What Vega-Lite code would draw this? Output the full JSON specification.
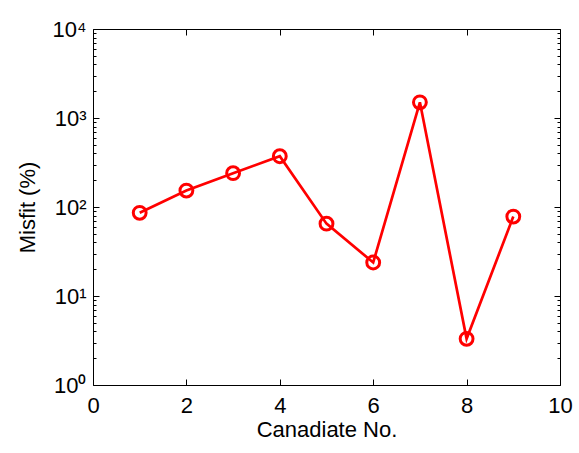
{
  "$schema": "https://vega.github.io/schema/vega-lite/v6.json",
  "width": 467,
  "height": 356,
  "autosize": {"type": "none"},
  "padding": {"left": 93, "top": 29, "right": 19, "bottom": 68},
  "background": "white",
  "config": {
    "view": {"stroke": null},
    "font": "Liberation Sans",
    "axis": {
      "grid": false,
      "domainColor": "black",
      "domainWidth": 1,
      "tickColor": "black",
      "tickWidth": 1,
      "labelFont": "Liberation Sans",
      "labelFontSize": 22,
      "labelColor": "black",
      "titleFont": "Liberation Sans",
      "titleFontSize": 22,
      "titleFontWeight": "normal",
      "titleColor": "black",
      "labelOverlap": false,
      "labelFlush": false
    }
  },
  "data": {
    "values": [
      {"candidate": 1, "misfit": 86},
      {"candidate": 2, "misfit": 153},
      {"candidate": 3, "misfit": 240},
      {"candidate": 4, "misfit": 372},
      {"candidate": 5, "misfit": 65},
      {"candidate": 6, "misfit": 23.8},
      {"candidate": 7, "misfit": 1500},
      {"candidate": 8, "misfit": 3.3},
      {"candidate": 9, "misfit": 78}
    ]
  },
  "layer": [
    {
      "mark": {"type": "line", "color": "#ff0000", "strokeWidth": 2.7, "clip": false,
        "point": {"filled": false, "color": "#ff0000", "size": 165, "strokeWidth": 3, "opacity": 1}},
      "encoding": {
        "x": {
          "field": "candidate", "type": "quantitative",
          "scale": {"domain": [0, 10], "nice": false, "zero": false},
          "axis": {
            "orient": "bottom",
            "title": "Canadiate No.",
            "values": [0, 2, 4, 6, 8, 10],
            "tickSize": -6,
            "labelPadding": 16,
            "titlePadding": 3
          }
        },
        "y": {
          "field": "misfit", "type": "quantitative",
          "scale": {"type": "log", "domain": [1, 10000], "nice": false},
          "axis": {
            "orient": "left",
            "title": "Misfit (%)",
            "values": [1,2,3,4,5,6,7,8,9,10,20,30,40,50,60,70,80,90,100,200,300,400,500,600,700,800,900,1000,2000,3000,4000,5000,6000,7000,8000,9000,10000],
            "labelExpr": "datum.value == 1 ? '10⁰' : datum.value == 10 ? '10¹' : datum.value == 100 ? '10²' : datum.value == 1000 ? '10³' : datum.value == 10000 ? '10⁴' : ''",
            "tickSize": {"condition": {"test": "indexof([1,10,100,1000,10000], datum.value) >= 0", "value": -6}, "value": -3},
            "labelPadding": 13,
            "titlePadding": 13
          }
        }
      }
    },
    {
      "mark": {"type": "point", "opacity": 0},
      "encoding": {
        "x": {
          "field": "candidate", "type": "quantitative",
          "axis": {"orient": "top", "title": null, "labels": false, "values": [0, 2, 4, 6, 8, 10], "tickSize": -6}
        },
        "y": {
          "field": "misfit", "type": "quantitative",
          "axis": {
            "orient": "right", "title": null, "labels": false,
            "values": [1,2,3,4,5,6,7,8,9,10,20,30,40,50,60,70,80,90,100,200,300,400,500,600,700,800,900,1000,2000,3000,4000,5000,6000,7000,8000,9000,10000],
            "tickSize": {"condition": {"test": "indexof([1,10,100,1000,10000], datum.value) >= 0", "value": -6}, "value": -3}
          }
        }
      }
    }
  ],
  "resolve": {"scale": {"x": "shared", "y": "shared"}, "axis": {"x": "independent", "y": "independent"}}
}
